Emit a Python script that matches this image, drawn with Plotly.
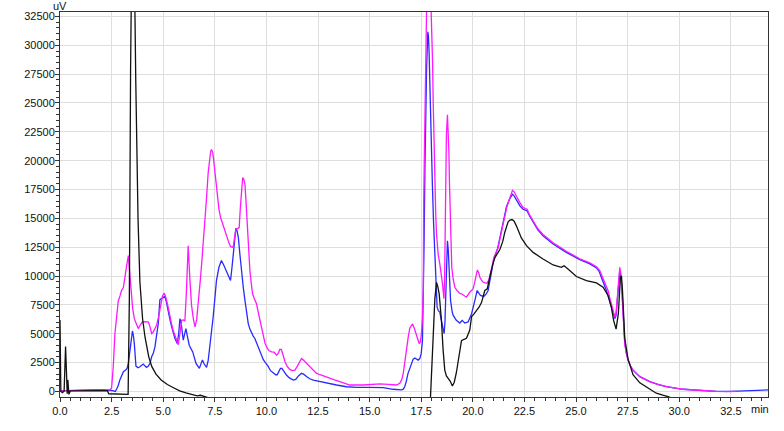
import plotly.graph_objects as go

# (time [min], signal [uV])
black = [
    (0, 6200), (0.04, 0), (0.12, -100), (0.2, 50), (0.27, 3900), (0.32, 200), (0.35, -200),
    (0.38, 1000), (0.43, -250), (0.5, 50), (1.0, 60), (1.5, 60), (2.0, 70), (2.3, 60),
    (2.36, -200), (2.8, -230), (3.3, -250), (3.36, 8000), (3.42, 28000), (3.5, 42000),
    (3.6, 36000), (3.63, 32900), (3.67, 27000), (3.71, 22000), (3.78, 15000), (3.87, 9500),
    (4.0, 6300), (4.12, 4700), (4.3, 3000), (4.45, 2150), (4.65, 1500), (4.9, 1000),
    (5.2, 600), (5.5, 320), (5.8, 50), (6.1, -130), (6.4, -300), (6.65, -380), (6.8, -330),
    (6.95, -420), (7.2, -550), (8.0, -900), (10.0, -1200), (15.0, -1200), (17.8, -1200),
    (17.95, -450), (18.08, 5000), (18.16, 8000), (18.24, 9450), (18.3, 9100), (18.37, 8450),
    (18.48, 6150), (18.56, 3600), (18.64, 1850), (18.72, 1350), (18.81, 1150), (18.9, 900),
    (19.01, 480), (19.1, 800), (19.2, 1600), (19.3, 2600), (19.37, 3600), (19.45, 4400),
    (19.55, 4500), (19.69, 4600), (19.85, 5300), (19.94, 6500), (20.05, 6700), (20.18, 7000),
    (20.3, 7300), (20.42, 7700), (20.5, 8200), (20.58, 8750), (20.7, 8900), (20.82, 9900),
    (20.95, 10900), (21.07, 11600), (21.2, 12000), (21.31, 12300), (21.45, 13000),
    (21.55, 13800), (21.71, 14700), (21.8, 14850), (21.9, 14900), (22.0, 14750),
    (22.11, 14350), (22.2, 13900), (22.35, 13300), (22.6, 12630), (22.92, 12050),
    (23.4, 11480), (23.89, 10960), (24.29, 10760), (24.42, 10900), (24.61, 10620),
    (25.02, 9960), (25.5, 9610), (25.99, 9410), (26.31, 9030), (26.55, 8320), (26.71, 7310),
    (26.82, 6160), (26.94, 5400), (27.05, 6740), (27.15, 9900), (27.2, 10000), (27.25, 8750),
    (27.31, 6160), (27.36, 4600), (27.52, 2800), (27.76, 1450), (28.09, 750), (28.5, 250),
    (28.89, -150), (29.2, -320), (29.46, -450), (29.8, -700), (30.5, -1000),
]

blue = [
    (0, 50), (0.5, 100), (1.0, 130), (1.5, 140), (2.0, 150), (2.4, 130), (2.55, 80), (2.68, 0),
    (2.8, 400), (2.9, 990), (3.0, 1500), (3.07, 1710), (3.18, 1850), (3.25, 2000), (3.31, 2430),
    (3.38, 3500), (3.43, 4440), (3.51, 5240), (3.56, 4800), (3.6, 4150), (3.68, 2200),
    (3.78, 2050), (3.87, 2140), (3.95, 2300), (4.03, 2370), (4.12, 2200), (4.19, 2090),
    (4.28, 2200), (4.36, 2430), (4.44, 3000), (4.52, 3300), (4.6, 3860), (4.68, 4800),
    (4.76, 5880), (4.84, 7950), (4.95, 8100), (5.08, 8250), (5.16, 7700), (5.24, 6880),
    (5.33, 6200), (5.41, 5590), (5.49, 5000), (5.57, 4590), (5.68, 4150), (5.75, 5000),
    (5.81, 6310), (5.88, 5800), (5.97, 4440), (6.03, 4900), (6.1, 5450), (6.18, 4700),
    (6.26, 4010), (6.43, 3430), (6.59, 2430), (6.75, 2000), (6.85, 2400), (6.9, 2720),
    (6.98, 2400), (7.1, 2090), (7.18, 2700), (7.26, 3860), (7.34, 5000), (7.42, 6450),
    (7.5, 8000), (7.58, 9610), (7.7, 10760), (7.82, 11340), (7.92, 11000), (8.0, 10700),
    (8.1, 10190), (8.26, 9610), (8.33, 10700), (8.39, 11910), (8.46, 13200), (8.52, 14150),
    (8.58, 13900), (8.64, 13340), (8.72, 11800), (8.8, 10190), (8.88, 9000), (8.96, 7890),
    (9.04, 6800), (9.12, 5880), (9.2, 5400), (9.28, 5020), (9.36, 4800), (9.44, 4590),
    (9.52, 4200), (9.6, 3860), (9.69, 3400), (9.77, 3000), (9.85, 2750), (9.95, 2500),
    (10.08, 2200), (10.2, 1800), (10.33, 1570), (10.45, 1450), (10.52, 1450), (10.6, 1700),
    (10.68, 2000), (10.75, 2000), (10.85, 1700), (10.97, 1420), (11.1, 1200), (11.3, 990),
    (11.42, 1050), (11.55, 1350), (11.7, 1570), (11.8, 1500), (11.94, 1300), (12.1, 1100),
    (12.27, 990), (12.59, 850), (12.92, 760), (13.4, 560), (13.88, 410), (14.37, 360),
    (15.01, 360), (15.66, 340), (16.14, 190), (16.55, 130), (16.63, 200), (16.7, 410),
    (16.78, 900), (16.86, 1570), (16.95, 2000), (17.03, 2500), (17.11, 2800), (17.19, 2900),
    (17.27, 2800), (17.35, 2720), (17.43, 2850), (17.5, 3300), (17.56, 4400), (17.6, 7890),
    (17.64, 13000), (17.68, 19380), (17.72, 24000), (17.76, 28000), (17.82, 31160),
    (17.85, 30800), (17.88, 29440), (17.95, 23690), (18.04, 17950), (18.1, 14500),
    (18.16, 11340), (18.22, 8800), (18.27, 7310), (18.33, 7000), (18.4, 6880), (18.47, 6200),
    (18.53, 5590), (18.61, 5020), (18.65, 6000), (18.69, 8460), (18.73, 11000), (18.77, 13060),
    (18.81, 12300), (18.85, 10760), (18.92, 7890), (19.0, 6900), (19.05, 6590), (19.2, 6160),
    (19.37, 5930), (19.48, 6160), (19.61, 5930), (19.77, 6020), (19.94, 6740), (20.1, 7890),
    (20.21, 8750), (20.3, 8500), (20.37, 8320), (20.53, 8230), (20.65, 8450), (20.74, 8750),
    (20.9, 10470), (21.0, 11300), (21.11, 11910), (21.2, 12400), (21.31, 13300), (21.47, 14600),
    (21.63, 16000), (21.79, 16700), (21.92, 17080), (22.0, 16950), (22.11, 16650),
    (22.28, 16080), (22.43, 15790), (22.55, 15700), (22.63, 15650), (22.75, 15200),
    (22.92, 14640), (23.15, 14000), (23.4, 13490), (23.89, 12780), (24.53, 12050),
    (25.18, 11420), (25.67, 11050), (25.99, 10700), (26.12, 10400), (26.23, 9900),
    (26.35, 9400), (26.47, 8750), (26.6, 8000), (26.71, 7310), (26.8, 6700), (26.88, 6310),
    (26.94, 6600), (26.98, 7310), (27.05, 9000), (27.12, 10470), (27.18, 9900), (27.22, 9030),
    (27.27, 7500), (27.31, 6160), (27.36, 4200), (27.44, 3300), (27.52, 2720), (27.64, 2200),
    (27.76, 1850), (28.09, 1280), (28.57, 850), (29.0, 600), (29.38, 410), (30.18, 190),
    (30.99, 70), (31.8, 0), (32.5, 0), (33.2, 30), (33.8, 80), (34.3, 130),
]

magenta = [
    (0, 50), (0.5, 90), (1.0, 110), (1.5, 120), (2.0, 130), (2.42, 130), (2.5, 300), (2.58, 2140),
    (2.66, 5000), (2.74, 6160), (2.82, 7800), (2.91, 8300), (2.98, 8750), (3.07, 9000),
    (3.15, 10190), (3.23, 10900), (3.31, 11770), (3.37, 10500), (3.44, 8750), (3.52, 7200),
    (3.6, 6310), (3.7, 5800), (3.79, 5450), (3.9, 5800), (3.99, 6020), (4.15, 6050),
    (4.28, 6020), (4.36, 5600), (4.44, 5020), (4.5, 5100), (4.6, 5500), (4.68, 5730),
    (4.78, 6500), (4.89, 7460), (4.97, 8300), (5.05, 8520), (5.12, 8200), (5.24, 7310),
    (5.33, 6400), (5.41, 5800), (5.48, 5300), (5.57, 4800), (5.65, 4300), (5.73, 4050),
    (5.81, 5000), (5.89, 6160), (5.97, 6200), (6.05, 6100), (6.12, 8500), (6.21, 12630),
    (6.29, 9800), (6.37, 7500), (6.46, 6300), (6.54, 5600), (6.62, 6200), (6.7, 7500),
    (6.78, 9300), (6.86, 11000), (6.94, 12800), (7.02, 14500), (7.1, 16790), (7.18, 19000),
    (7.23, 19960), (7.3, 20800), (7.34, 20960), (7.4, 20700), (7.45, 19960), (7.53, 18500),
    (7.61, 17080), (7.7, 15800), (7.78, 15070), (7.86, 14600), (7.94, 14200), (8.02, 13700),
    (8.1, 13340), (8.18, 12900), (8.26, 12540), (8.39, 12480), (8.47, 13500), (8.52, 14070),
    (8.6, 14100), (8.68, 14200), (8.74, 16000), (8.8, 17650), (8.85, 18520), (8.9, 18400),
    (8.96, 17950), (9.02, 16200), (9.07, 14500), (9.13, 12400), (9.2, 10470), (9.27, 9300),
    (9.33, 8460), (9.42, 8000), (9.52, 7600), (9.6, 6900), (9.69, 6160), (9.77, 5400),
    (9.85, 4720), (9.93, 4200), (10.01, 3860), (10.12, 3550), (10.25, 3430), (10.37, 3400),
    (10.49, 3150), (10.57, 3300), (10.65, 3640), (10.72, 3640), (10.8, 3200), (10.9, 2570),
    (11.0, 2200), (11.13, 1910), (11.25, 1800), (11.38, 1850), (11.5, 2200), (11.6, 2600),
    (11.7, 2860), (11.8, 2700), (11.94, 2430), (12.05, 2250), (12.19, 2000), (12.3, 1800),
    (12.43, 1570), (12.6, 1450), (12.75, 1340), (13.07, 1140), (13.3, 1000), (13.56, 850),
    (13.8, 700), (14.04, 560), (14.69, 560), (15.1, 600), (15.5, 650), (15.9, 620),
    (16.14, 560), (16.3, 560), (16.46, 710), (16.55, 1000), (16.63, 1570), (16.71, 2700),
    (16.79, 3860), (16.87, 4700), (16.95, 5500), (17.03, 5800), (17.08, 5850), (17.16, 5500),
    (17.24, 5020), (17.32, 4500), (17.4, 4150), (17.46, 4300), (17.51, 5020), (17.56, 6450),
    (17.6, 9000), (17.62, 16510), (17.66, 25000), (17.69, 30880), (17.72, 33500),
    (17.8, 38000), (17.9, 38000), (17.96, 34500), (18.01, 32000), (18.05, 28500),
    (18.08, 25130), (18.12, 21000), (18.16, 17950), (18.2, 15500), (18.24, 13640),
    (18.28, 12600), (18.32, 11910), (18.4, 11050), (18.46, 10300), (18.53, 9330),
    (18.6, 8030), (18.63, 9500), (18.66, 13640), (18.69, 18000), (18.72, 22260),
    (18.77, 23980), (18.8, 23000), (18.84, 20820), (18.87, 18000), (18.9, 15070),
    (18.94, 12600), (18.98, 10760), (19.05, 9700), (19.13, 9030), (19.21, 8800), (19.29, 8600),
    (19.37, 8500), (19.45, 8460), (19.55, 8350), (19.69, 8170), (19.85, 8600), (20.01, 8890),
    (20.07, 9300), (20.13, 9900), (20.22, 10530), (20.28, 10300), (20.34, 9900), (20.42, 9650),
    (20.5, 9470), (20.6, 9400), (20.69, 9380), (20.78, 9700), (20.86, 10190), (20.94, 10900),
    (21.02, 11620), (21.12, 12000), (21.23, 12480), (21.31, 13200), (21.39, 13920),
    (21.47, 14700), (21.55, 15360), (21.65, 16000), (21.74, 16510), (21.83, 17000),
    (21.92, 17430), (22.0, 17300), (22.08, 17080), (22.18, 16700), (22.28, 16360),
    (22.43, 15950), (22.55, 15850), (22.63, 15790), (22.75, 15300), (22.92, 14750),
    (23.15, 14100), (23.4, 13600), (23.89, 12880), (24.53, 12150), (25.18, 11500),
    (25.67, 11150), (25.99, 10800), (26.15, 10470), (26.25, 10000), (26.4, 9300),
    (26.55, 8750), (26.65, 8000), (26.75, 7300), (26.83, 6700), (26.88, 6450), (26.94, 6800),
    (27.0, 8000), (27.06, 9700), (27.12, 10760), (27.17, 10200), (27.22, 8500), (27.28, 6450),
    (27.36, 4150), (27.44, 3300), (27.52, 2720), (27.64, 2200), (27.76, 1850), (28.09, 1280),
    (28.57, 850), (29.0, 600), (29.38, 410), (30.18, 190), (30.99, 70), (31.8, 0),
    (32.3, -10), (32.77, 0),
]

x_tick_values = [0, 2.5, 5, 7.5, 10, 12.5, 15, 17.5, 20, 22.5, 25, 27.5, 30, 32.5]
x_tick_labels = ["0.0", "2.5", "5.0", "7.5", "10.0", "12.5", "15.0", "17.5", "20.0",
                 "22.5", "25.0", "27.5", "30.0", "32.5"]
y_tick_values = list(range(0, 32501, 2500))
y_unit = "uV"
x_unit = "min"

FONT = "Arial, Liberation Sans, sans-serif"

fig = go.Figure()
for data, color in [(blue, "#2a2aff"), (magenta, "#ff19ff"), (black, "#111111")]:
    t, v = zip(*data)
    fig.add_trace(go.Scatter(x=list(t), y=list(v), mode="lines",
                             line=dict(color=color, width=1.3), showlegend=False,
                             hoverinfo="skip"))

axis_common = dict(
    showgrid=True, gridcolor="#dedede", gridwidth=1, zeroline=False,
    showline=True, linecolor="#333333", linewidth=1, mirror=True,
    ticks="outside", ticklen=4, tickcolor="#333333",
    tickfont=dict(family=FONT, size=11, color="#111111"),
)

fig.update_layout(
    width=784, height=431,
    margin=dict(l=60, r=16, t=10, b=34),
    paper_bgcolor="white", plot_bgcolor="white",
    hovermode=False,
    xaxis=dict(range=[0, 34.3], tickvals=x_tick_values, ticktext=x_tick_labels,
               minor=dict(dtick=0.5, tick0=0, ticks="outside", ticklen=3,
                          tickcolor="#333333", showgrid=False),
               **axis_common),
    yaxis=dict(range=[-480, 32880], tickvals=y_tick_values,
               ticktext=[str(v) for v in y_tick_values],
               minor=dict(dtick=500, tick0=0, ticks="outside", ticklen=3,
                          tickcolor="#333333", showgrid=False),
               ticklabelstandoff=-2,
               **axis_common),
    annotations=[
        dict(text=y_unit, xref="paper", yref="paper", x=0.0, y=1.0, xanchor="center",
             yanchor="bottom", showarrow=False, font=dict(family=FONT, size=11, color="#111111"),
             yshift=-2),
        dict(text=x_unit, xref="paper", yref="paper", x=0.989, y=0.0, xanchor="center",
             yanchor="middle", showarrow=False, font=dict(family=FONT, size=11, color="#111111"),
             yshift=-12),
    ],
)

fig.write_html("out.html", config={"displayModeBar": False, "staticPlot": True},
               post_script="document.body.style.margin='0px';document.body.style.overflow='hidden';")
